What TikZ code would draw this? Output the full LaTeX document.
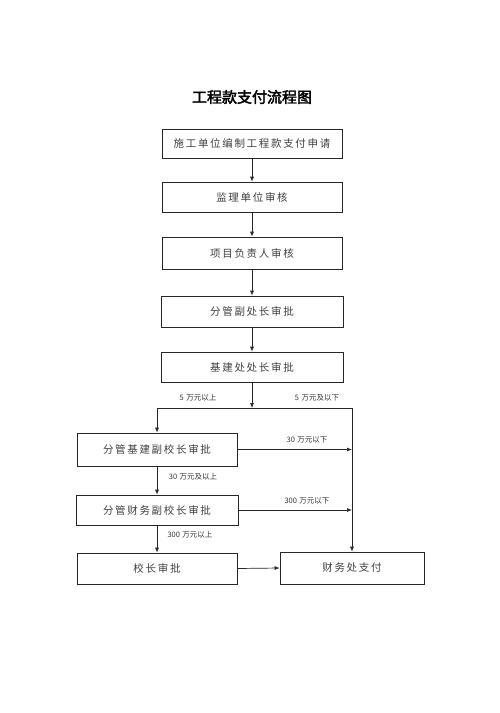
\documentclass[tikz,border=0pt]{standalone}
\usepackage{fontspec}
\setmainfont{Liberation Serif}
\newfontfamily\cjkbox{Noto Sans CJK SC}[LetterSpace=16]
\newfontfamily\cjklab{Noto Sans CJK SC}
\newfontfamily\cjktitle{Noto Sans CJK SC}[BoldFont=*,BoldFeatures={FakeBold=2.5}]
\usetikzlibrary{arrows.meta}
\newcommand{\gapsp}{\hspace{2.5pt}}
\begin{document}
\begin{tikzpicture}[x=1pt,y=-1pt,
  boxst/.style={draw=black!85,line width=0.7pt,minimum width=#1,inner sep=0pt,
    font=\cjkbox\fontsize{10.5}{12}\selectfont,text=black!75},
  boxst/.default=180pt,
  ln/.style={draw=black!85,line width=0.7pt},
  arr/.style={ln,-{Latex[length=5pt,width=4pt]}},
  lab/.style={font=\cjklab\fontsize{7.5}{9}\selectfont,text=black!80,inner sep=1pt}]
\fill[white] (0,0) rectangle (500,713);
\useasboundingbox (0,0) rectangle (500,713);
\node[font=\cjktitle\bfseries\fontsize{15}{18}\selectfont] (title) at (252,97) {工程款支付流程图};
\node[boxst,minimum height=29pt] (b1) at (252,143.5) {施工单位编制工程款支付申请};
\node[boxst,minimum height=30pt] (b2) at (252,197) {监理单位审核};
\node[boxst,minimum height=32pt] (b3) at (252,253) {项目负责人审核};
\node[boxst=182pt,minimum height=31pt] (b4) at (252,311.5) {分管副处长审批};
\node[boxst=182pt,minimum height=30pt] (b5) at (252,367) {基建处处长审批};
\node[boxst=160pt,minimum height=33pt] (b6) at (157,449.5) {分管基建副校长审批};
\node[boxst=162pt,minimum height=30pt] (b7) at (157,510) {分管财务副校长审批};
\node[boxst=160pt,minimum height=31pt] (b8) at (157,568.5) {校长审批};
\node[boxst=144pt,minimum height=32pt] (b9) at (352,568) {财务处支付};
\coordinate (j) at (252,408);
\coordinate (jl) at (157,408);
\coordinate (jr) at (352,408);
\coordinate (r6) at (352,449.5);
\coordinate (r7) at (352,510);
\draw[arr] (b1.south) -- (b2.north);
\draw[arr] (b2.south) -- (b3.north);
\draw[arr] (b3.south) -- (b4.north);
\draw[arr] (b4.south) -- (b5.north);
\draw[arr] (b5.south) -- (j);
\draw[ln] (jl) -- (jr);
\draw[arr] (jl) -- (b6.north);
\draw[arr] (jr) -- (b9.north);
\draw[arr] (b6.east) -- (r6);
\draw[arr] (b7.east) -- (r7);
\draw[arr] (b6.south) -- (b7.north);
\draw[arr] (b7.south) -- (b8.north);
\draw[arr] (b8.east) -- (b9.west);
\node[lab] (l1) at (198,398) {5\gapsp 万元以上};
\node[lab] (l2) at (317,398) {5\gapsp 万元及以下};
\node[lab] (l3) at (307,440) {30\gapsp 万元以下};
\node[lab] (l4) at (193,477) {30\gapsp 万元及以上};
\node[lab] (l5) at (307,501) {300\gapsp 万元以下};
\node[lab] (l6) at (190,535) {300\gapsp 万元以上};
\end{tikzpicture}
\end{document}
